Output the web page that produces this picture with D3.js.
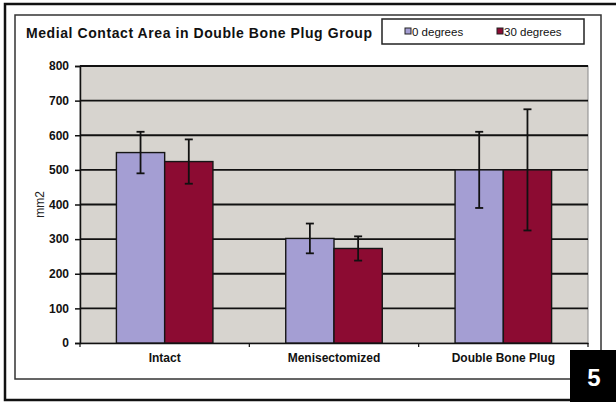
<!DOCTYPE html>
<html>
<head>
<meta charset="utf-8">
<script src="https://cdn.jsdelivr.net/npm/d3@7"></script>
<style>
  html, body { margin: 0; padding: 0; background: #fff; }
  svg { display: block; font-family: "Liberation Sans", Arial, sans-serif; }
</style>
</head>
<body>
<div id="chart"></div>
<script>
// Data
const categories = ["Intact", "Menisectomized", "Double Bone Plug"];
const seriesNames = ["0 degrees", "30 degrees"];
const values0 = [550, 302, 500];
const values30 = [524, 273, 500];
const err0 = [60, 43, 110];
const err30 = [64, 35, 175];
const yTicks = [0, 100, 200, 300, 400, 500, 600, 700, 800];

const colors = ["#a49ed3", "#8c0b32"];

const W = 616, H = 402;
const svg = d3.select("#chart").append("svg")
    .attr("width", W)
    .attr("height", H);

// Outer frame + inner chart box
svg.append("rect").attr("x", 5).attr("y", 4).attr("width", 620).attr("height", 396)
    .attr("fill", "#fff").attr("stroke", "#111").attr("stroke-width", 2.5);
svg.append("rect").attr("x", 15).attr("y", 15).attr("width", 586).attr("height", 364)
    .attr("fill", "#fff").attr("stroke", "#333").attr("stroke-width", 1.5);

// Plot area
const plot = { left: 80, right: 588, top: 66, bottom: 343 };

const x0 = d3.scaleBand()
    .domain(categories)
    .range([plot.left, plot.right])
    .paddingInner(0.43).paddingOuter(0.215);
const x1 = d3.scaleBand()
    .domain(seriesNames)
    .range([0, x0.bandwidth()]);
const y = d3.scaleLinear().domain([0, 800]).range([plot.bottom, plot.top]);

svg.append("rect")
    .attr("x", plot.left).attr("y", plot.top)
    .attr("width", plot.right - plot.left).attr("height", plot.bottom - plot.top)
    .attr("fill", "#d7d4cf").attr("stroke", "#888").attr("stroke-width", 1);

// Gridlines
svg.append("g")
    .selectAll("line")
    .data(yTicks.filter(d => d > 0))
    .enter().append("line")
    .attr("x1", plot.left).attr("x2", plot.right)
    .attr("y1", d => y(d)).attr("y2", d => y(d))
    .attr("stroke", "#111").attr("stroke-width", 1.8);

// Y axis
const yAxis = svg.append("g")
    .attr("transform", `translate(${plot.left},0)`)
    .call(d3.axisLeft(y).tickValues(yTicks).tickSize(5).tickPadding(6));
yAxis.select(".domain").attr("stroke", "#111").attr("stroke-width", 1.5);
yAxis.selectAll(".tick line").attr("stroke", "#111").attr("stroke-width", 1.5);
yAxis.selectAll(".tick text")
    .attr("fill", "#111")
    .style("font-size", "12px")
    .style("font-weight", "bold");

// X axis
const xAxis = svg.append("g")
    .attr("transform", `translate(0,${plot.bottom})`)
    .call(d3.axisBottom(x0).tickSize(0).tickPadding(10));
xAxis.select(".domain").attr("stroke", "#111").attr("stroke-width", 1.5);
xAxis.selectAll(".tick text")
    .attr("fill", "#111")
    .style("font-size", "12px")
    .style("font-weight", "bold");

// category boundary ticks
svg.append("g")
    .selectAll("line")
    .data(d3.range(categories.length + 1))
    .enter().append("line")
    .attr("x1", i => plot.left + i * (plot.right - plot.left) / categories.length)
    .attr("x2", i => plot.left + i * (plot.right - plot.left) / categories.length)
    .attr("y1", plot.bottom).attr("y2", plot.bottom + 4)
    .attr("stroke", "#111").attr("stroke-width", 1.2);

// Bars
const rows = categories.map((c, i) => ({
    cat: c,
    items: [
        { s: seriesNames[0], v: values0[i], e: err0[i], c: colors[0] },
        { s: seriesNames[1], v: values30[i], e: err30[i], c: colors[1] }
    ]
}));

const groups = svg.append("g")
    .selectAll("g")
    .data(rows)
    .enter().append("g")
    .attr("transform", d => `translate(${x0(d.cat)},0)`);

groups.selectAll("rect")
    .data(d => d.items)
    .enter().append("rect")
    .attr("x", d => x1(d.s))
    .attr("y", d => y(d.v))
    .attr("width", x1.bandwidth())
    .attr("height", d => plot.bottom - y(d.v))
    .attr("fill", d => d.c)
    .attr("stroke", "#151515")
    .attr("stroke-width", 1.4);

// Error bars
const eb = groups.selectAll("g.err")
    .data(d => d.items)
    .enter().append("g")
    .attr("class", "err")
    .attr("transform", d => `translate(${x1(d.s) + x1.bandwidth() / 2},0)`);
eb.append("line")
    .attr("y1", d => y(d.v + d.e)).attr("y2", d => y(d.v - d.e))
    .attr("stroke", "#111").attr("stroke-width", 1.8);
eb.append("line")
    .attr("x1", -4).attr("x2", 4)
    .attr("y1", d => y(d.v + d.e)).attr("y2", d => y(d.v + d.e))
    .attr("stroke", "#111").attr("stroke-width", 1.8);
eb.append("line")
    .attr("x1", -4).attr("x2", 4)
    .attr("y1", d => y(d.v - d.e)).attr("y2", d => y(d.v - d.e))
    .attr("stroke", "#111").attr("stroke-width", 1.8);

// Y label
svg.append("text")
    .attr("transform", `translate(44,${(plot.top + plot.bottom) / 2}) rotate(-90)`)
    .attr("text-anchor", "middle")
    .style("font-size", "12px")
    .attr("fill", "#222")
    .text("mm2");

// Title
svg.append("text")
    .attr("x", 26).attr("y", 38)
    .style("font-size", "14px")
    .style("font-weight", "bold")
    .attr("fill", "#111")
    .attr("textLength", 346)
    .text("Medial Contact Area in Double Bone Plug Group");

// Legend
const legend = svg.append("g");
legend.append("rect")
    .attr("x", 382).attr("y", 19).attr("width", 202).attr("height", 25)
    .attr("fill", "#fff").attr("stroke", "#222").attr("stroke-width", 1.5);
const legX = [405, 497];
seriesNames.forEach((s, i) => {
    legend.append("rect")
        .attr("x", legX[i]).attr("y", 28).attr("width", 6).attr("height", 6)
        .attr("fill", colors[i]).attr("stroke", "#222").attr("stroke-width", 1);
    legend.append("text")
        .attr("x", legX[i] + 7).attr("y", 35.5)
        .style("font-size", "11.5px")
        .attr("fill", "#111")
        .text(s);
});

// Figure number box
svg.append("rect")
    .attr("x", 570).attr("y", 350).attr("width", 46).attr("height", 52)
    .attr("fill", "#000");
svg.append("text")
    .attr("x", 594).attr("y", 386)
    .attr("text-anchor", "middle")
    .style("font-size", "24px")
    .style("font-weight", "bold")
    .attr("fill", "#fff")
    .text("5");
</script>
</body>
</html>
